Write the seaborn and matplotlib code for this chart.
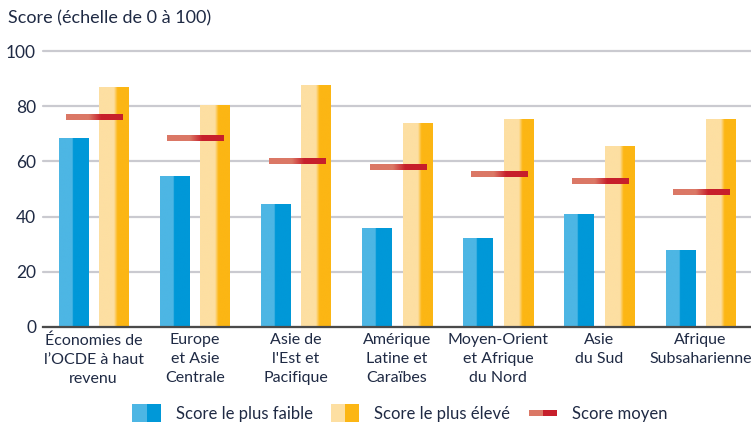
import numpy as np
import pandas as pd
import matplotlib
matplotlib.use('Agg')
import matplotlib.pyplot as plt
import seaborn as sns
from matplotlib.colors import LinearSegmentedColormap
from matplotlib.patches import Rectangle
from matplotlib.legend_handler import HandlerBase

# Données
regions = ['Économies de\nl’OCDE à haut\nrevenu', 'Europe\net Asie\nCentrale',
           "Asie de\nl'Est et\nPacifique", 'Amérique\nLatine et\nCaraïbes',
           'Moyen-Orient\net Afrique\ndu Nord', 'Asie\ndu Sud', 'Afrique\nSubsaharienne']
score_min = [68.3, 54.5, 44.2, 35.5, 31.9, 40.6, 27.5]
score_max = [86.9, 80.3, 87.6, 73.8, 75.2, 65.4, 75.2]
score_moyen = [76.0, 68.5, 60.3, 57.8, 55.3, 52.7, 48.7]
series = ['Score le plus faible', 'Score le plus élevé']
legend_labels = ['Score le plus faible', 'Score le plus élevé', 'Score moyen']

couleurs = {
    'min': ('#4db6e4', '#0098d8', 0.45, 0.47),
    'max': ('#fddfa2', '#fcb614', 0.5, 0.62),
    'moy': ('#db7866', '#c71f2b', 0.4, 0.62),
}
texte = '#1f2a44'

sns.set_style('white')
plt.rcParams['font.family'] = ['Lato', 'DejaVu Sans']


def make_cmap(light, dark, a, b):
    return LinearSegmentedColormap.from_list('g', [(0, light), (a, light), (b, dark), (1, dark)])


def grad_rect(ax, x0, y0, w, h, cmap, z=3):
    grad = np.linspace(0, 1, 256).reshape(1, -1)
    ax.imshow(grad, cmap=cmap, extent=[x0, x0 + w, y0, y0 + h], aspect='auto',
              zorder=z, interpolation='bilinear')


df = pd.DataFrame({
    'region': regions * 2,
    'serie': [series[0]] * len(regions) + [series[1]] * len(regions),
    'score': score_min + score_max,
})

fig = plt.figure(figsize=(7.51, 4.24), dpi=100)
ax = fig.add_axes([43 / 751, 1 - 326.5 / 424, 1 - 43 / 751, (326.5 - 51.5) / 424])

sns.barplot(data=df, x='region', y='score', hue='serie', width=0.8, gap=0.275,
            legend=False, ax=ax, errorbar=None)

cmaps = [make_cmap(*couleurs['min']), make_cmap(*couleurs['max'])]
for cont, cm in zip(ax.containers, cmaps):
    for p in cont.patches:
        p.set_visible(False)
        grad_rect(ax, p.get_x(), p.get_y(), p.get_width(), p.get_height(), cm)

# Score moyen : petits traits en dégradé
cm_moy = make_cmap(*couleurs['moy'])
for i, v in enumerate(score_moyen):
    grad_rect(ax, i - 0.27, v - 1.05, 0.56, 2.1, cm_moy, z=4)

ax.set_xlim(-0.5, 6.5)
ax.set_ylim(0, 100)
ax.set_yticks([0, 20, 40, 60, 80, 100])
ax.yaxis.grid(True, color='#cacad0', linewidth=1.6, zorder=0)
for gl in ax.yaxis.get_gridlines():
    gl.set_clip_on(False)
ax.set_axisbelow(True)
for s in ['top', 'right', 'left']:
    ax.spines[s].set_visible(False)
ax.spines['bottom'].set_color('#4a4a4a')
ax.spines['bottom'].set_linewidth(1.6)
ax.spines['bottom'].set_zorder(5)
ax.tick_params(axis='both', length=0, labelsize=11.5, colors=texte)
ax.tick_params(axis='y', labelsize=12.5, pad=5)
ax.tick_params(axis='x', pad=5)
for t in ax.get_xticklabels():
    t.set_linespacing(1.45)
ax.set_xlabel('')
ax.set_ylabel('')

fig.text(8 / 751, 1 - 18 / 424, 'Score (échelle de 0 à 100)', fontsize=13,
         color=texte, va='center', ha='left')


class GradHandler(HandlerBase):
    def __init__(self, light, dark, frac=1.0):
        super().__init__()
        self.light, self.dark, self.frac = light, dark, frac

    def create_artists(self, legend, orig_handle, xdescent, ydescent, width,
                       height, fontsize, trans):
        h = height * self.frac
        y = -ydescent + (height - h) / 2
        r1 = Rectangle((-xdescent, y), width / 2, h, fc=self.light, ec='none', transform=trans)
        r2 = Rectangle((-xdescent + width / 2, y), width / 2, h, fc=self.dark, ec='none', transform=trans)
        return [r1, r2]


handles = [Rectangle((0, 0), 1, 1) for _ in range(3)]
hmap = {
    handles[0]: GradHandler(couleurs['min'][0], couleurs['min'][1], 1.3),
    handles[1]: GradHandler(couleurs['max'][0], couleurs['max'][1], 1.3),
    handles[2]: GradHandler(couleurs['moy'][0], couleurs['moy'][1], 0.45),
}
leg = fig.legend(handles, legend_labels, handler_map=hmap, loc='center',
                 bbox_to_anchor=(400 / 751, 1 - 414 / 424), ncol=3, frameon=False,
                 fontsize=12, handlelength=1.7, handleheight=0.9, handletextpad=0.9,
                 columnspacing=1.1, borderaxespad=0)
for t in leg.get_texts():
    t.set_color(texte)

fig.savefig('out.png', dpi=100)
